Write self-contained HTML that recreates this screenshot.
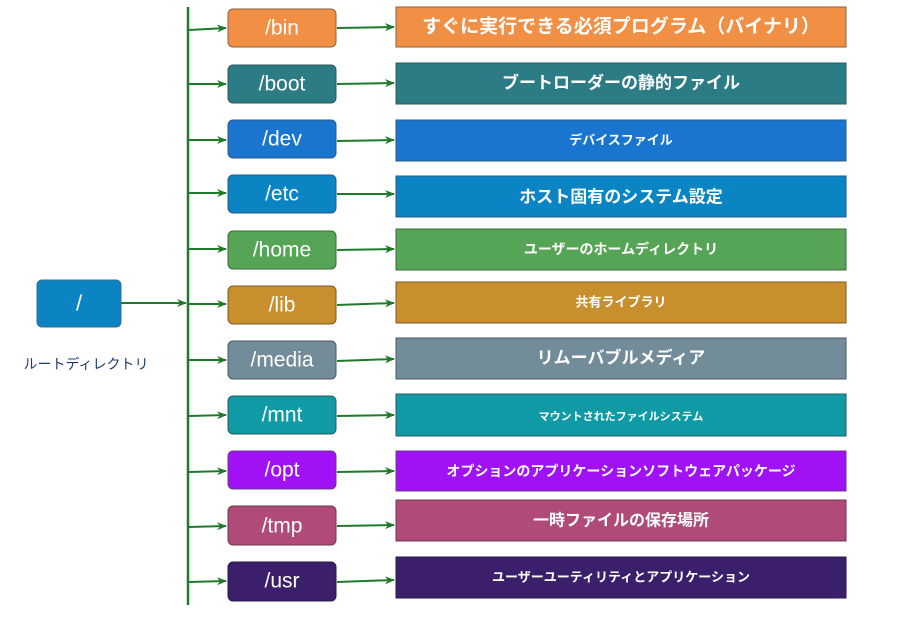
<!DOCTYPE html>
<html><head><meta charset="utf-8"><style>
body{margin:0;background:#fff;}
svg text{font-family:"Liberation Sans","Noto Sans CJK JP",sans-serif;fill:#fff;text-anchor:middle;dominant-baseline:central;}
.j{font-weight:bold;}
</style></head><body>
<svg width="904" height="614" viewBox="0 0 904 614" xmlns="http://www.w3.org/2000/svg">
<defs><marker id="a" markerWidth="10" markerHeight="8" refX="9" refY="4" orient="auto" markerUnits="userSpaceOnUse"><path d="M0,0 L10,4 L0,8 L3,4 Z" fill="#1f7a2a"/></marker></defs>
<line x1="188" y1="7" x2="188" y2="605" stroke="#1f7a2a" stroke-width="2.5"/>
<rect x="37" y="280" width="84" height="47" rx="5" fill="#0b84c4" stroke="#3a6f8a"/>
<text x="79" y="303" font-size="22">/</text>
<line x1="121" y1="303" x2="186" y2="303" stroke="#1f7a2a" stroke-width="2" marker-end="url(#a)"/>
<text x="86" y="364" font-size="14" style="fill:#1f3a6e">ルートディレクトリ</text>
<line x1="189" y1="30" x2="226" y2="28" stroke="#1f7a2a" stroke-width="2" marker-end="url(#a)"/><rect x="228" y="9" width="108" height="38" rx="5" fill="#f18f45" stroke="#8a6040"/><text x="282" y="28" font-size="21">/bin</text><line x1="337" y1="28" x2="394" y2="27" stroke="#1f7a2a" stroke-width="2" marker-end="url(#a)"/><rect x="396" y="7" width="450" height="40" fill="#f18f45" stroke="#8a6040"/><text class="j" x="621" y="27" font-size="19">すぐに実行できる必須プログラム（バイナリ）</text>
<line x1="189" y1="84" x2="226" y2="84" stroke="#1f7a2a" stroke-width="2" marker-end="url(#a)"/><rect x="228" y="65" width="108" height="38" rx="5" fill="#2b7c85" stroke="#2a5a60"/><text x="282" y="84" font-size="21">/boot</text><line x1="337" y1="84" x2="394" y2="83" stroke="#1f7a2a" stroke-width="2" marker-end="url(#a)"/><rect x="396" y="63" width="450" height="41" fill="#2b7c85" stroke="#2a5a60"/><text class="j" x="621" y="83" font-size="17">ブートローダーの静的ファイル</text>
<line x1="189" y1="140" x2="226" y2="140" stroke="#1f7a2a" stroke-width="2" marker-end="url(#a)"/><rect x="228" y="120" width="108" height="38" rx="5" fill="#1a75cf" stroke="#2a5a80"/><text x="282" y="139" font-size="21">/dev</text><line x1="337" y1="141" x2="394" y2="140" stroke="#1f7a2a" stroke-width="2" marker-end="url(#a)"/><rect x="396" y="120" width="450" height="41" fill="#1a75cf" stroke="#2a5a80"/><text class="j" x="621" y="140" font-size="13">デバイスファイル</text>
<line x1="189" y1="193" x2="226" y2="193" stroke="#1f7a2a" stroke-width="2" marker-end="url(#a)"/><rect x="228" y="175" width="108" height="38" rx="5" fill="#0b84c4" stroke="#2a5a80"/><text x="282" y="194" font-size="21">/etc</text><line x1="337" y1="194" x2="394" y2="194" stroke="#1f7a2a" stroke-width="2" marker-end="url(#a)"/><rect x="396" y="176" width="450" height="41" fill="#0b84c4" stroke="#2a5a80"/><text class="j" x="621" y="197" font-size="17">ホスト固有のシステム設定</text>
<line x1="189" y1="249" x2="226" y2="249" stroke="#1f7a2a" stroke-width="2" marker-end="url(#a)"/><rect x="228" y="231" width="108" height="38" rx="5" fill="#56a556" stroke="#3a6a3a"/><text x="282" y="250" font-size="21">/home</text><line x1="337" y1="250" x2="394" y2="249" stroke="#1f7a2a" stroke-width="2" marker-end="url(#a)"/><rect x="396" y="229" width="450" height="41" fill="#56a556" stroke="#3a6a3a"/><text class="j" x="621" y="249" font-size="14">ユーザーのホームディレクトリ</text>
<line x1="189" y1="304" x2="226" y2="304" stroke="#1f7a2a" stroke-width="2" marker-end="url(#a)"/><rect x="228" y="286" width="108" height="38" rx="5" fill="#c98f2c" stroke="#7a5a2a"/><text x="282" y="305" font-size="21">/lib</text><line x1="337" y1="305" x2="394" y2="303" stroke="#1f7a2a" stroke-width="2" marker-end="url(#a)"/><rect x="396" y="282" width="450" height="41" fill="#c98f2c" stroke="#7a5a2a"/><text class="j" x="621" y="302" font-size="13">共有ライブラリ</text>
<line x1="189" y1="360" x2="226" y2="360" stroke="#1f7a2a" stroke-width="2" marker-end="url(#a)"/><rect x="228" y="341" width="108" height="38" rx="5" fill="#738c99" stroke="#4a5a66"/><text x="282" y="360" font-size="21">/media</text><line x1="337" y1="361" x2="394" y2="359" stroke="#1f7a2a" stroke-width="2" marker-end="url(#a)"/><rect x="396" y="338" width="450" height="41" fill="#738c99" stroke="#4a5a66"/><text class="j" x="621" y="358" font-size="17">リムーバブルメディア</text>
<line x1="189" y1="416" x2="226" y2="415" stroke="#1f7a2a" stroke-width="2" marker-end="url(#a)"/><rect x="228" y="396" width="108" height="38" rx="5" fill="#0f9aa5" stroke="#2a5a60"/><text x="282" y="415" font-size="21">/mnt</text><line x1="337" y1="416" x2="394" y2="415" stroke="#1f7a2a" stroke-width="2" marker-end="url(#a)"/><rect x="396" y="394" width="450" height="42" fill="#0f9aa5" stroke="#2a5a60"/><text class="j" x="621" y="417" font-size="11">マウントされたファイルシステム</text>
<line x1="189" y1="472" x2="226" y2="471" stroke="#1f7a2a" stroke-width="2" marker-end="url(#a)"/><rect x="228" y="451" width="108" height="38" rx="5" fill="#a012f5" stroke="#6a3a8a"/><text x="282" y="470" font-size="21">/opt</text><line x1="337" y1="472" x2="394" y2="471" stroke="#1f7a2a" stroke-width="2" marker-end="url(#a)"/><rect x="396" y="451" width="450" height="40" fill="#a012f5" stroke="#6a3a8a"/><text class="j" x="621" y="471" font-size="14">オプションのアプリケーションソフトウェアパッケージ</text>
<line x1="189" y1="527" x2="226" y2="526" stroke="#1f7a2a" stroke-width="2" marker-end="url(#a)"/><rect x="228" y="506" width="108" height="39" rx="5" fill="#b04a78" stroke="#6a3a50"/><text x="282" y="526" font-size="21">/tmp</text><line x1="337" y1="526" x2="394" y2="525" stroke="#1f7a2a" stroke-width="2" marker-end="url(#a)"/><rect x="396" y="500" width="450" height="41" fill="#b04a78" stroke="#6a3a50"/><text class="j" x="621" y="521" font-size="16">一時ファイルの保存場所</text>
<line x1="189" y1="582" x2="226" y2="581" stroke="#1f7a2a" stroke-width="2" marker-end="url(#a)"/><rect x="228" y="562" width="108" height="39" rx="5" fill="#3b1f6b" stroke="#2a1a4a"/><text x="282" y="581" font-size="21">/usr</text><line x1="337" y1="582" x2="394" y2="580" stroke="#1f7a2a" stroke-width="2" marker-end="url(#a)"/><rect x="396" y="557" width="450" height="41" fill="#3b1f6b" stroke="#2a1a4a"/><text class="j" x="621" y="577" font-size="13">ユーザーユーティリティとアプリケーション</text>
</svg>
</body></html>
